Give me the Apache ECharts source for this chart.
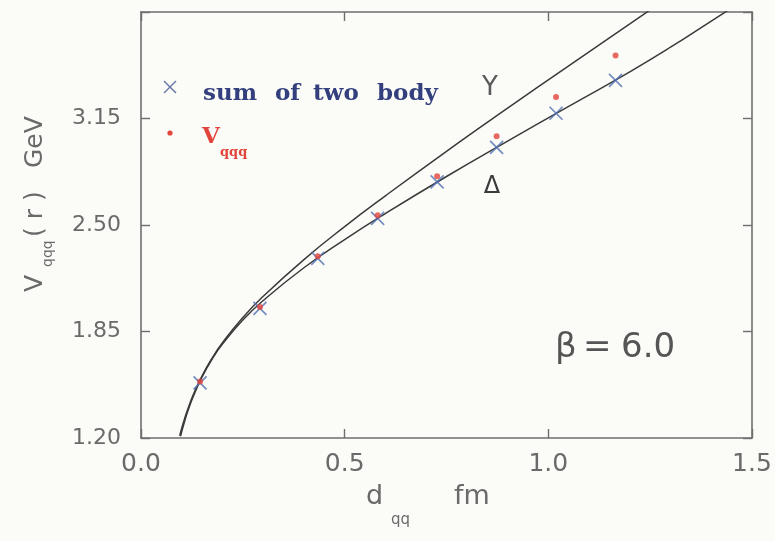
<!DOCTYPE html>
<html>
<head>
<meta charset="utf-8">
<script src="https://cdn.jsdelivr.net/npm/echarts@6/dist/echarts.min.js"></script>
<style>
  html, body { margin: 0; padding: 0; background: #fbfcf8; }
  #chart { width: 775px; height: 541px; }
</style>
</head>
<body>
<div id="chart"></div>
<script>
// Axis ticks
const xTicks = [0.0, 0.5, 1.0, 1.5];
const yTicks = [1.20, 1.85, 2.50, 3.15, 3.80];

// Lattice separations d_qq (fm) of the measured points
const dqq = [0.145, 0.292, 0.434, 0.581, 0.727, 0.873, 1.019, 1.165];
// Sum of the two-body potentials (crosses), GeV
const sumTwoBody = [1.537, 1.991, 2.296, 2.540, 2.763, 2.974, 3.182, 3.383];
// Three-quark potential V_qqq (dots), GeV
const vqqq = [1.545, 2.000, 2.310, 2.560, 2.798, 3.041, 3.281, 3.535];

// Y-string ansatz curve, sampled points [d, V]
const curveY = [
  [0.095, 1.214], [0.105, 1.302], [0.115, 1.377], [0.130, 1.474], [0.150, 1.580],
  [0.175, 1.689], [0.200, 1.781], [0.250, 1.935], [0.300, 2.065], [0.400, 2.289],
  [0.500, 2.490], [0.600, 2.678], [0.750, 2.950], [0.900, 3.213], [1.050, 3.471],
  [1.200, 3.727], [1.260, 3.830]
];
// Delta (sum of two-body) curve, sampled points [d, V]
const curveDelta = [
  [0.097, 1.211], [0.105, 1.284], [0.115, 1.364], [0.130, 1.464], [0.150, 1.573],
  [0.175, 1.683], [0.200, 1.773], [0.250, 1.920], [0.300, 2.039], [0.400, 2.239],
  [0.500, 2.411], [0.600, 2.570], [0.750, 2.796], [0.900, 3.012], [1.050, 3.224],
  [1.200, 3.435], [1.300, 3.585], [1.400, 3.745], [1.460, 3.840]
];

// Key entries
const keyWords = ['sum', 'of', 'two', 'body'];
const keyWordX = [203, 275, 313, 377];

const axisGray = '#6e6e6e';
const textGray = '#6a6a6a';
const crossBlue = '#5371b3';
const keyBlue = '#34407e';
const dotRed = '#e2453c';
const crossPath = 'path://M0,0L10,10M10,0L0,10';

const chart = echarts.init(document.getElementById('chart'), null, { renderer: 'canvas' });

const xMin = xTicks[0], xMax = xTicks[xTicks.length - 1], xStep = xTicks[1] - xTicks[0];
const yMin = yTicks[0], yMax = yTicks[yTicks.length - 1], yStep = yTicks[1] - yTicks[0];

function frameAxis(pos, isX, showLabels) {
  const a = {
    type: 'value',
    position: pos,
    min: isX ? xMin : yMin,
    max: isX ? xMax : yMax,
    interval: isX ? xStep : yStep,
    splitLine: { show: false },
    axisLine: { show: true, onZero: false, lineStyle: { color: axisGray, width: 1.6 } },
    axisTick: { show: true, inside: true, length: 9, lineStyle: { color: axisGray, width: 1.4 } },
    axisLabel: { show: showLabels }
  };
  if (showLabels) {
    if (isX) {
      a.axisLabel = {
        show: true, margin: 14, color: textGray,
        fontFamily: 'DejaVu Sans', fontSize: 25,
        formatter: v => v.toFixed(1)
      };
    } else {
      a.axisLabel = {
        show: true, margin: 20, color: textGray,
        fontFamily: 'DejaVu Sans', fontSize: 22,
        formatter: v => (Math.abs(v - yMax) < 1e-6 ? '' : v.toFixed(2))
      };
    }
  }
  return a;
}

const keyText = keyWords.map((w, i) => ({
  type: 'text', x: keyWordX[i], y: 94,
  style: { text: w, font: 'bold 23px "DejaVu Serif"', fill: keyBlue, align: 'left', verticalAlign: 'middle' }
}));

const option = {
  backgroundColor: '#fbfcf8',
  animation: false,
  grid: { left: 141, right: 23, top: 12, bottom: 103 },
  xAxis: [frameAxis('bottom', true, true), frameAxis('top', true, false)],
  yAxis: [frameAxis('left', false, true), frameAxis('right', false, false)],
  series: [
    {
      name: 'Y', type: 'line', data: curveY, smooth: true, showSymbol: false,
      lineStyle: { color: '#3a3a3a', width: 1.5 }, clip: true, z: 2
    },
    {
      name: 'Δ', type: 'line', data: curveDelta, smooth: true, showSymbol: false,
      lineStyle: { color: '#3a3a3a', width: 1.5 }, clip: true, z: 2
    },
    {
      name: 'sum of two body', type: 'scatter',
      data: dqq.map((d, i) => [d, sumTwoBody[i]]),
      symbol: crossPath, symbolSize: 13,
      itemStyle: { color: 'rgba(0,0,0,0)', borderColor: crossBlue, borderWidth: 1.7 },
      z: 3
    },
    {
      name: 'Vqqq', type: 'scatter',
      data: dqq.map((d, i) => [d, vqqq[i]]),
      symbol: 'circle', symbolSize: 6,
      itemStyle: { color: dotRed },
      z: 4
    }
  ],
  graphic: [
    // vertical axis title: V_qqq(r) GeV
    {
      type: 'group', x: 35, y: 292, rotation: Math.PI / 2,
      children: [
        { type: 'text', x: 0, y: 0, style: { text: 'V', font: '25px "DejaVu Sans"', fill: textGray, align: 'left', verticalAlign: 'middle' } },
        { type: 'text', x: 25, y: 13, style: { text: 'qqq', font: '14px "DejaVu Sans"', fill: textGray, align: 'left', verticalAlign: 'middle' } },
        { type: 'text', x: 55, y: 0, style: { text: '( r )', font: '25px "DejaVu Sans"', fill: textGray, align: 'left', verticalAlign: 'middle' } },
        { type: 'text', x: 124, y: 0, style: { text: 'GeV', font: '25px "DejaVu Sans"', fill: textGray, align: 'left', verticalAlign: 'middle' } }
      ]
    },
    // horizontal axis title: d_qq fm
    { type: 'text', x: 366, y: 497, style: { text: 'd', font: '27px "DejaVu Sans"', fill: textGray, align: 'left', verticalAlign: 'middle' } },
    { type: 'text', x: 391, y: 520, style: { text: 'qq', font: '15px "DejaVu Sans"', fill: textGray, align: 'left', verticalAlign: 'middle' } },
    { type: 'text', x: 454, y: 497, style: { text: 'fm', font: '27px "DejaVu Sans"', fill: textGray, align: 'left', verticalAlign: 'middle' } },

    // key
    { type: 'line', shape: { x1: 164, y1: 81, x2: 176, y2: 93 }, style: { stroke: '#6b78a8', lineWidth: 1.5 } },
    { type: 'line', shape: { x1: 176, y1: 81, x2: 164, y2: 93 }, style: { stroke: '#6b78a8', lineWidth: 1.5 } },
    ...keyText,
    { type: 'circle', shape: { cx: 170, cy: 133, r: 2.6 }, style: { fill: dotRed } },
    { type: 'text', x: 202, y: 137, style: { text: 'V', font: 'bold 23px "DejaVu Serif"', fill: dotRed, align: 'left', verticalAlign: 'middle' } },
    { type: 'text', x: 220, y: 153, style: { text: 'qqq', font: 'bold 13px "DejaVu Serif"', fill: dotRed, align: 'left', verticalAlign: 'middle' } },

    // curve labels
    { type: 'text', x: 490, y: 88, style: { text: 'Y', font: '26px "DejaVu Sans"', fill: '#5a5a5a', align: 'center', verticalAlign: 'middle' } },
    { type: 'text', x: 492, y: 187, style: { text: 'Δ', font: '24px "DejaVu Sans"', fill: '#3a3a3a', align: 'center', verticalAlign: 'middle' } },

    // coupling
    { type: 'text', x: 555, y: 348, style: { text: 'β', font: '34px "DejaVu Sans"', fill: '#555555', align: 'left', verticalAlign: 'middle' } },
    { type: 'text', x: 583, y: 348, style: { text: '=', font: '34px "DejaVu Sans"', fill: '#555555', align: 'left', verticalAlign: 'middle' } },
    { type: 'text', x: 621, y: 348, style: { text: '6.0', font: '34px "DejaVu Sans"', fill: '#555555', align: 'left', verticalAlign: 'middle' } }
  ]
};

chart.setOption(option);
</script>
</body>
</html>
